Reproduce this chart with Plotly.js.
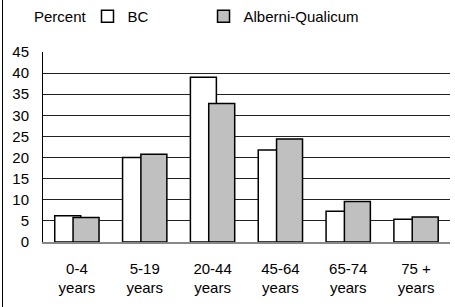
<!DOCTYPE html>
<html><head><meta charset="utf-8">
<script src="https://cdn.plot.ly/plotly-3.0.1.min.js"></script>
<style>
html,body{margin:0;padding:0;background:#fff;}
#wrap{position:relative;width:455px;height:307px;}
#frame{position:absolute;left:2px;top:0;width:0;height:307px;border-left:1px solid #000;z-index:5;pointer-events:none;}
#chart{width:455px;height:307px;}
</style></head>
<body>
<div id="wrap"><div id="frame"></div><div id="chart"></div></div>
<script>
var categories = ["0-4<br>years","5-19<br>years","20-44<br>years","45-64<br>years","65-74<br>years","75 +<br>years"];
var bcValues = [6.2, 20.0, 39.0, 21.8, 7.3, 5.4];
var aqValues = [5.8, 20.8, 32.8, 24.4, 9.6, 5.9];
var seriesNames = ["BC", "Alberni-Qualicum"];
var yTicks = [0,5,10,15,20,25,30,35,40,45];

var font = {family: "Arial, 'Liberation Sans', sans-serif", size: 15, color: "#000"};

var traces = [
  {type:"bar", name: seriesNames[0], x: categories, y: bcValues, legend:"legend",
   width: 0.383, offset: -0.327,
   marker:{color:"#ffffff", line:{color:"#000", width:1.5}}, hoverinfo:"skip"},
  {type:"bar", name: seriesNames[1], x: categories, y: aqValues, legend:"legend2",
   width: 0.383, offset: -0.057,
   marker:{color:"#c0c0c0", line:{color:"#000", width:1.5}}, hoverinfo:"skip"}
];

var legendBase = {orientation:"h", xref:"container", yref:"container", y:1.0, xanchor:"left", yanchor:"top",
                  font:font, bgcolor:"rgba(0,0,0,0)"};

var layout = {
  width:455, height:307,
  margin:{l:43, r:5, t:52, b:65},
  paper_bgcolor:"#fff", plot_bgcolor:"#fff",
  font: font,
  barmode:"overlay",
  showlegend:true,
  legend:Object.assign({}, legendBase, {x:0.1923}),
  legend2:Object.assign({}, legendBase, {x:0.4473}),
  xaxis:{type:"category", showgrid:false, zeroline:false, showline:true, linecolor:"#888", linewidth:1.5,
         ticks:"", tickfont:font, ticklabelstandoff:12, fixedrange:true},
  yaxis:{range:[0,45], tickvals:yTicks, ticktext:yTicks.map(String), showgrid:true, gridcolor:"#222", gridwidth:1,
         zeroline:false, showline:true, linecolor:"#000", linewidth:1, ticks:"", tickfont:font,
         ticklabelstandoff:10, fixedrange:true},
  annotations:[{text:"Percent", xref:"paper", yref:"paper", x:-0.027, y:1.189, xanchor:"left", yanchor:"middle",
                showarrow:false, font:font}]
};

Plotly.newPlot("chart", traces, layout, {displayModeBar:false, staticPlot:true});
</script>
</body></html>
